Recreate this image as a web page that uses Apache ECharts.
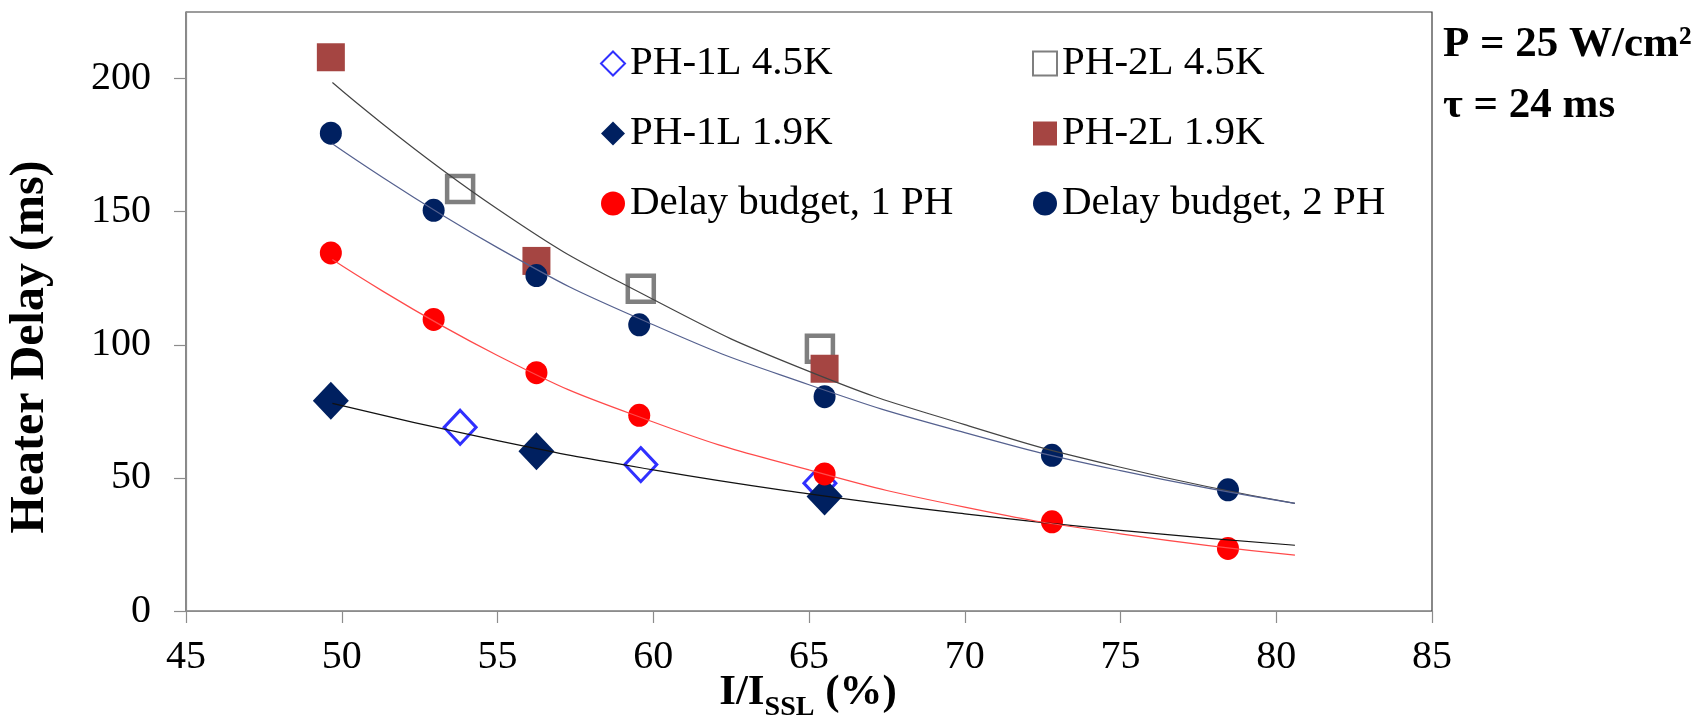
<!DOCTYPE html>
<html>
<head>
<meta charset="utf-8">
<script src="https://cdn.jsdelivr.net/npm/echarts@6/dist/echarts.min.js"></script>
<style>
html,body{margin:0;padding:0;background:#fff;}
#chart{width:1696px;height:717px;}
</style>
</head>
<body>
<div id="chart"></div>
<script>
// ---- data ----
const xTicks = [45, 50, 55, 60, 65, 70, 75, 80, 85];
const yTicks = [0, 50, 100, 150, 200];

const ph1l45X = [53.8, 59.6, 65.35];
const ph1l45Y = [69, 55, 48];
const ph2l45X = [53.8, 59.6, 65.35];
const ph2l45Y = [158.5, 121, 98.5];
const ph1l19X = [49.65, 56.25, 65.5];
const ph1l19Y = [79, 60, 43];
const ph2l19X = [49.65, 56.25, 65.5];
const ph2l19Y = [208, 131.5, 91];
const budgetX = [49.65, 52.95, 56.25, 59.55, 65.5, 72.8, 78.45];
const budget1 = [134.5, 109.5, 89.5, 73.5, 51.5, 33.5, 23.5];
const budget2 = [179.5, 150.5, 126, 107.5, 80.5, 58.5, 45.5];

// trend lines, values
const fitX = [49.7, 55, 60, 65, 70, 75, 80.6];
const fit1L = [78, 64, 53, 44, 36.5, 30.3, 24.7];
const fit2L = [198.5, 151, 117, 90, 70, 54, 40.4];
const fit1PH = [132, 96, 71, 53, 39, 29, 21];
const fit2PH = [175.5, 136.5, 107.5, 85, 67, 52.7, 40.4];

const names = ['PH-1L 4.5K', 'PH-2L 4.5K', 'PH-1L 1.9K', 'PH-2L 1.9K', 'Delay budget, 1 PH', 'Delay budget, 2 PH'];

const zip = (xs, ys) => xs.map((x, i) => [x, ys[i]]);
const FONT = 'Liberation Serif';

const chart = echarts.init(document.getElementById('chart'), null, {renderer: 'canvas'});

function fitLine(ys, color) {
  return {
    type: 'line', data: zip(fitX, ys), smooth: true, symbol: 'none', silent: true,
    lineStyle: {color: color, width: 1.2}, z: 5
  };
}

const legendCommon = {
  orient: 'vertical', top: 38, itemWidth: 24, itemHeight: 24, itemGap: 29,
  textStyle: {fontFamily: FONT, fontSize: 41, color: '#000'}
};

const option = {
  animation: false,
  backgroundColor: '#fff',
  textStyle: {fontFamily: FONT},
  grid: {left: 186, right: 264, top: 12, bottom: 106, show: true, borderColor: '#3a3a3a', borderWidth: 1.2, backgroundColor: 'transparent'},
  legend: [
    Object.assign({left: 595, data: [names[0], names[2], names[4]]}, legendCommon),
    Object.assign({left: 1027, data: [names[1], names[3], names[5]]}, legendCommon)
  ],
  xAxis: {
    type: 'value', min: xTicks[0], max: xTicks[xTicks.length - 1], interval: 5,
    axisLine: {show: true, lineStyle: {color: '#8c8c8c', width: 1.2}},
    axisTick: {show: true, length: 12, lineStyle: {color: '#8c8c8c', width: 1.2}},
    splitLine: {show: false},
    axisLabel: {fontFamily: FONT, fontSize: 40, color: '#000', margin: 26}
  },
  yAxis: {
    type: 'value', min: 0, max: 225, interval: 50,
    axisLine: {show: true, lineStyle: {color: '#8c8c8c', width: 1.2}},
    axisTick: {show: true, length: 12, customValues: yTicks, lineStyle: {color: '#8c8c8c', width: 1.2}},
    splitLine: {show: false},
    axisLabel: {fontFamily: FONT, fontSize: 40, color: '#000', margin: 35, customValues: yTicks,
      formatter: v => (yTicks.indexOf(v) >= 0 ? String(v) : '')}
  },
  series: [
    {name: names[0], type: 'scatter', data: zip(ph1l45X, ph1l45Y), symbol: 'diamond', symbolSize: [32, 34], z: 2,
     itemStyle: {color: '#ffffff', borderColor: '#3030ff', borderWidth: 3, opacity: 1}},
    {name: names[1], type: 'scatter', data: zip(ph2l45X, ph2l45Y), symbol: 'rect', symbolSize: 26, z: 2,
     itemStyle: {color: 'rgba(255,255,255,0)', borderColor: '#7f7f7f', borderWidth: 4.5, opacity: 1}},
    {name: names[2], type: 'scatter', data: zip(ph1l19X, ph1l19Y), symbol: 'diamond', symbolSize: [36, 38], z: 2,
     itemStyle: {color: '#002060', opacity: 1}},
    {name: names[3], type: 'scatter', data: zip(ph2l19X, ph2l19Y), symbol: 'rect', symbolSize: 28, z: 2,
     itemStyle: {color: '#a54542', opacity: 1}},
    {name: names[4], type: 'scatter', data: zip(budgetX, budget1), symbol: 'circle', symbolSize: [22, 23], z: 2,
     itemStyle: {color: '#ff0000', opacity: 1}},
    {name: names[5], type: 'scatter', data: zip(budgetX, budget2), symbol: 'circle', symbolSize: [22, 23], z: 2,
     itemStyle: {color: '#002060', opacity: 1}},
    fitLine(fit1L, '#111111'),
    fitLine(fit2L, '#444444'),
    fitLine(fit1PH, '#ff4a4a'),
    fitLine(fit2PH, '#55618f')
  ],
  graphic: [
    {type: 'text', x: 31, y: 347, rotation: Math.PI / 2,
     style: {text: 'Heater Delay (ms)', fontFamily: FONT, fontWeight: 'bold', fontSize: 48, fill: '#000', align: 'center', verticalAlign: 'middle'}},
    {type: 'text', x: 808, y: 693,
     style: {text: '{a|I/I}{s|SSL}{a| (%)}', align: 'center', verticalAlign: 'middle',
       rich: {
         a: {fontFamily: FONT, fontWeight: 'bold', fontSize: 43, fill: '#000', lineHeight: 44},
         s: {fontFamily: FONT, fontWeight: 'bold', fontSize: 28, fill: '#000', lineHeight: 44, padding: [30, 0, 0, 0]}
       }}},
    {type: 'text', x: 1443, y: 45,
     style: {text: 'P = 25 W/cm²', fontFamily: FONT, fontWeight: 'bold', fontSize: 43, fill: '#000', align: 'left', verticalAlign: 'middle'}},
    {type: 'text', x: 1443, y: 106,
     style: {text: 'τ = 24 ms', fontFamily: FONT, fontWeight: 'bold', fontSize: 43, fill: '#000', align: 'left', verticalAlign: 'middle'}}
  ]
};
chart.setOption(option);
</script>
</body>
</html>
